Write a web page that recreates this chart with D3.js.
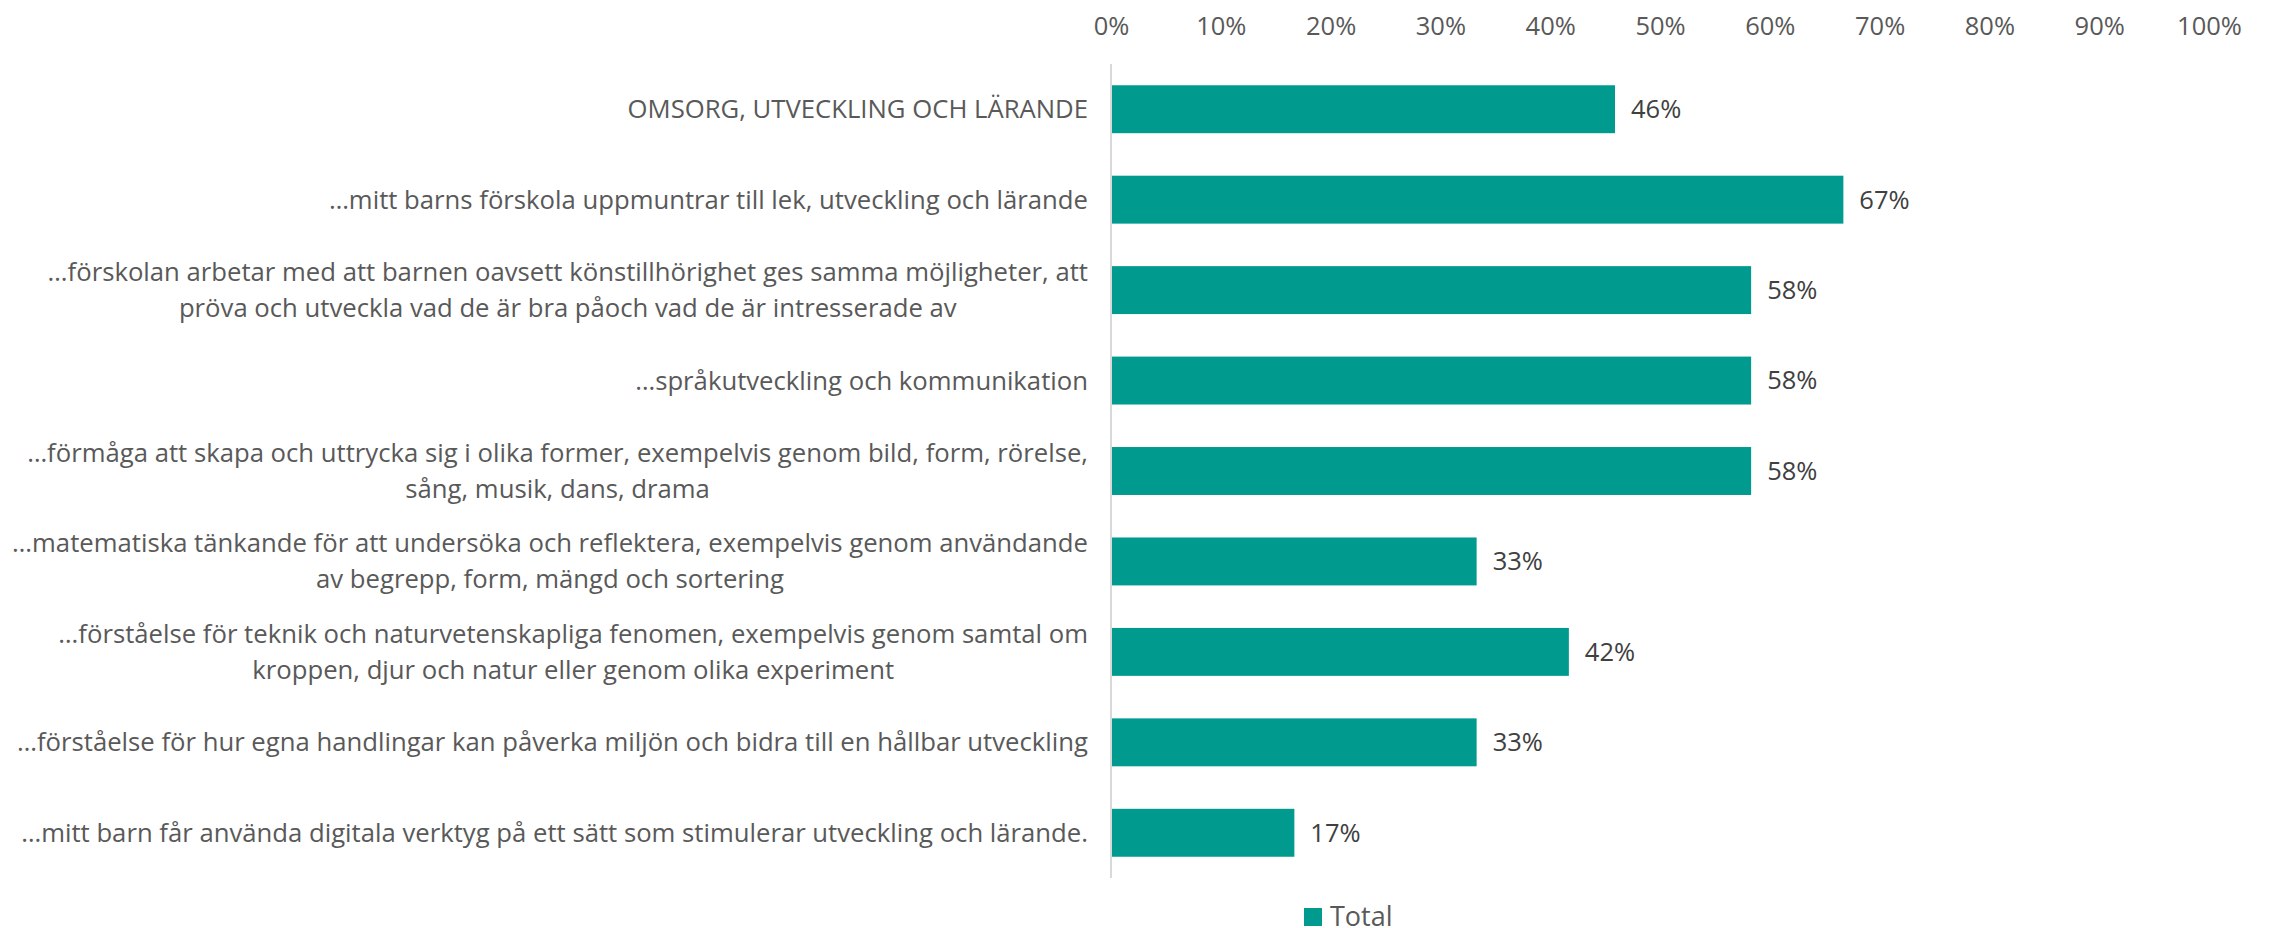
<!DOCTYPE html>
<html>
<head>
<meta charset="utf-8">
<script src="https://cdn.jsdelivr.net/npm/d3@7"></script>
<style>
  body { margin: 0; background: #fff; }
  text { font-family: "Open Sans", sans-serif; }
</style>
</head>
<body>
<svg id="chart" width="2269" height="928"></svg>
<script>
// categories (each entry = lines of the wrapped label)
var categories = [
  ["OMSORG, UTVECKLING OCH LÄRANDE"],
  ["…mitt barns förskola uppmuntrar till lek, utveckling och lärande"],
  ["…förskolan arbetar med att barnen oavsett könstillhörighet ges samma möjligheter, att",
   "pröva och utveckla vad de är bra påoch vad de är intresserade av"],
  ["…språkutveckling och kommunikation"],
  ["…förmåga att skapa och uttrycka sig i olika former, exempelvis genom bild, form, rörelse,",
   "sång, musik, dans, drama"],
  ["…matematiska tänkande för att undersöka och reflektera, exempelvis genom användande",
   "av begrepp, form, mängd och sortering"],
  ["…förståelse för teknik och naturvetenskapliga fenomen, exempelvis genom samtal om",
   "kroppen, djur och natur eller genom olika experiment"],
  ["…förståelse för hur egna handlingar kan påverka miljön och bidra till en hållbar utveckling"],
  ["…mitt barn får använda digitala verktyg på ett sätt som stimulerar utveckling och lärande."]
];
var totals = [0.459, 0.667, 0.583, 0.583, 0.583, 0.333, 0.417, 0.333, 0.167];
var ticks = [0, 0.1, 0.2, 0.3, 0.4, 0.5, 0.6, 0.7, 0.8, 0.9, 1];
var seriesName = "Total";

var svg = d3.select("#chart");
var barColor = "#009a8e";

var x = d3.scaleLinear().domain([0, 1]).range([1111, 2209]);
var y = d3.scaleBand()
  .domain(d3.range(categories.length))
  .range([64, 878])
  .paddingInner(0.47)
  .paddingOuter(0.235);

// top axis labels
var xAxis = d3.axisTop(x).tickValues(ticks).tickSize(0).tickFormat(d3.format(".0%"));
var gx = svg.append("g").attr("transform", "translate(0,38)").call(xAxis);
gx.select(".domain").remove();
gx.selectAll("text")
  .style("font-size", "25.5px")
  .style("fill", "#595959")
  .attr("dy", 0);

// vertical axis line
svg.append("line")
  .attr("x1", x(0)).attr("x2", x(0))
  .attr("y1", 64).attr("y2", 878)
  .attr("stroke", "#d9d9d9").attr("stroke-width", 2);

// bars
svg.selectAll(".bar")
  .data(totals)
  .enter().append("rect")
  .attr("class", "bar")
  .attr("x", x(0) + 1)
  .attr("y", function(d, i) { return y(i); })
  .attr("width", function(d) { return x(d) - x(0) - 1; })
  .attr("height", y.bandwidth())
  .attr("fill", barColor);

// value labels
svg.selectAll(".val")
  .data(totals)
  .enter().append("text")
  .attr("class", "val")
  .attr("x", function(d) { return x(d) + 16; })
  .attr("y", function(d, i) { return y(i) + y.bandwidth() / 2; })
  .attr("dy", "0.35em")
  .style("font-size", "25.5px")
  .style("fill", "#404040")
  .text(function(d) { return d3.format(".0%")(d); });

// category labels: widest line right-aligned, other lines centred on it
var labelRight = 1088, lineH = 36;
categories.forEach(function(lines, i) {
  var g = svg.append("g");
  var cy = y(i) + y.bandwidth() / 2;
  var texts = lines.map(function(s, j) {
    return g.append("text")
      .attr("y", cy + (j - (lines.length - 1) / 2) * lineH)
      .attr("dy", "0.35em")
      .attr("text-anchor", "middle")
      .style("font-size", "25.7px")
      .style("fill", "#595959")
      .text(s);
  });
  var w = d3.max(texts, function(t) { return t.node().getComputedTextLength(); });
  texts.forEach(function(t) { t.attr("x", labelRight - w / 2); });
});

// legend
var lg = svg.append("g").attr("transform", "translate(1304,908)");
lg.append("rect").attr("width", 18).attr("height", 18).attr("fill", barColor);
lg.append("text")
  .attr("x", 26).attr("y", 9).attr("dy", "0.35em")
  .style("font-size", "27px")
  .style("fill", "#595959")
  .text(seriesName);
</script>
</body>
</html>
